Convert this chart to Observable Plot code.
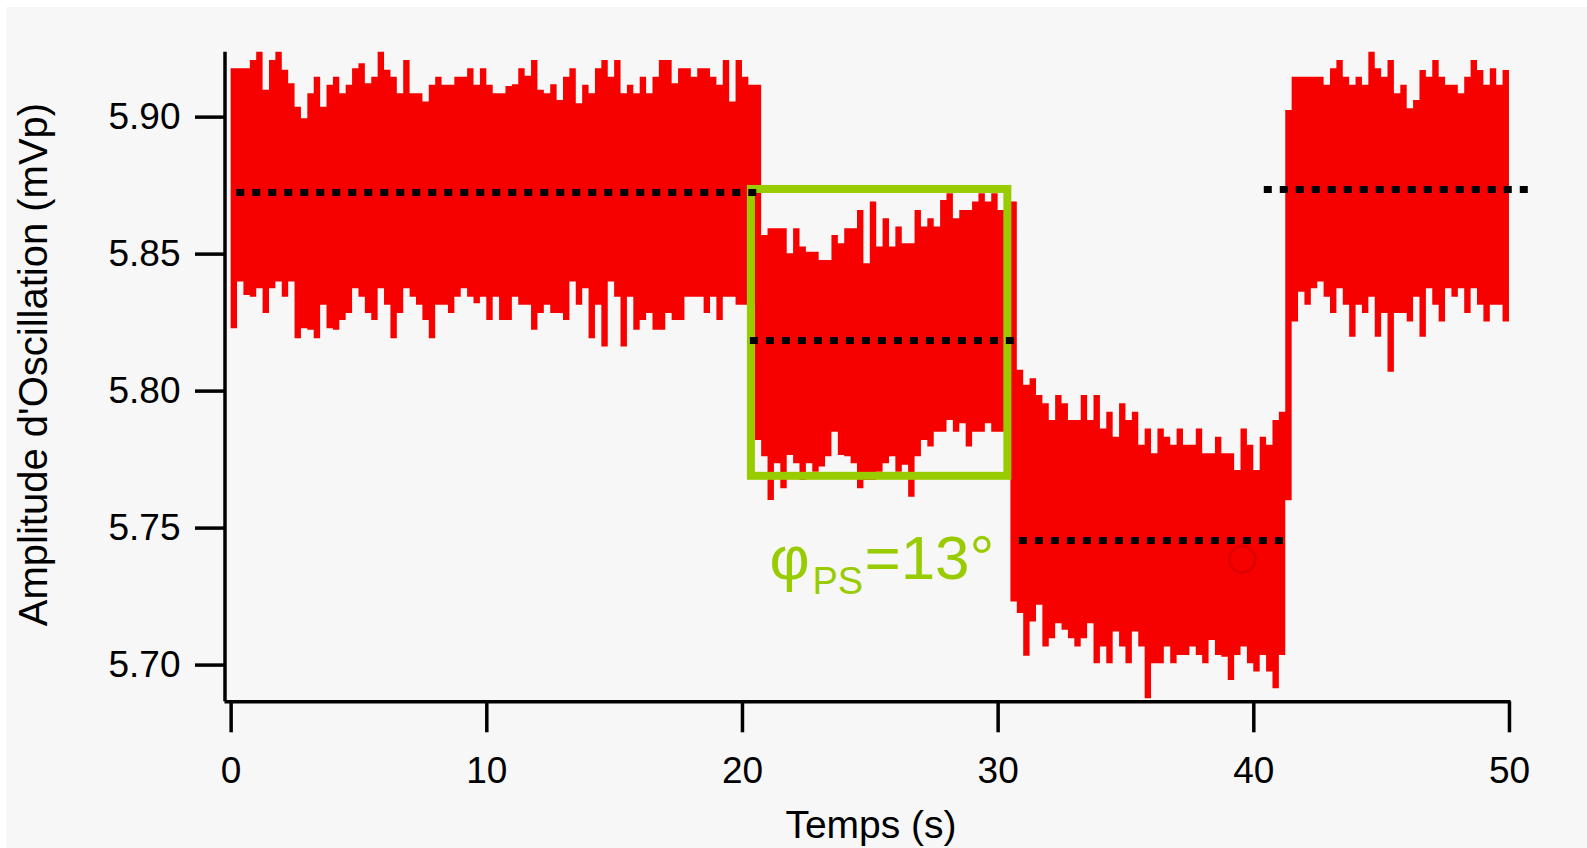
<!DOCTYPE html>
<html>
<head>
<meta charset="utf-8">
<script src="https://cdn.jsdelivr.net/npm/d3@7"></script>
<script src="https://cdn.jsdelivr.net/npm/@observablehq/plot@0.6"></script>
<style>
  html, body { margin: 0; padding: 0; background: #ffffff; }
  #panel { position: absolute; left: 6px; top: 7px; width: 1581px; height: 841px; background: #f7f7f7; }
</style>
</head>
<body>
<div id="panel"></div>
<script>
// ---- Data (upper / lower envelope of the red signal, 0.25 s sampling) ----
const sampleStep = 0.25; // s

const seg1Upper = [5.9177,5.9177,5.9177,5.9207,5.9237,5.9098,5.9207,5.9237,5.9171,5.9122,
5.9036,5.8994,5.9085,5.9146,5.9036,5.9116,5.9146,5.9085,5.9116,5.9177,
5.9195,5.9122,5.9146,5.9237,5.9171,5.9146,5.9085,5.9207,5.9085,5.9085,
5.9055,5.9116,5.9146,5.9116,5.9116,5.9146,5.9146,5.9177,5.9116,5.9177,
5.9116,5.9085,5.9085,5.9112,5.9118,5.9177,5.9149,5.9207,5.9098,5.9085,
5.9118,5.9061,5.9146,5.9177,5.9049,5.9116,5.9085,5.9177,5.9207,5.9146,
5.9207,5.9085,5.9116,5.9085,5.9146,5.9085,5.9146,5.9207,5.9207,5.9122,
5.9177,5.9177,5.9146,5.9177,5.9177,5.9146,5.9116,5.9207,5.9055,5.9207,
5.9146,5.9116,5.9116];
const seg1Lower = [5.8228,5.8398,5.8349,5.8343,5.8374,5.8283,5.8374,5.8398,5.8343,5.8398,
5.8191,5.8228,5.8222,5.8191,5.8313,5.8228,5.8222,5.8258,5.8283,5.8374,
5.8343,5.8283,5.8258,5.8374,5.8313,5.8191,5.8283,5.8374,5.8343,5.8313,
5.8258,5.8191,5.8313,5.8313,5.8283,5.8343,5.8374,5.8343,5.8319,5.8343,
5.8258,5.8343,5.8258,5.8258,5.8343,5.8313,5.8313,5.8222,5.8283,5.8313,
5.8283,5.8283,5.8258,5.8398,5.8313,5.8374,5.8191,5.8313,5.8161,5.8398,
5.8343,5.8161,5.8343,5.8222,5.8258,5.8283,5.8222,5.8222,5.8283,5.8258,
5.8258,5.8343,5.8343,5.8343,5.8283,5.8343,5.8258,5.8343,5.8343,5.8313,
5.8313,5.8313,5.7820];
const seg2Upper = [5.8568,5.8593,5.8593,5.8593,5.8501,5.8593,5.8526,5.8507,5.8507,5.8477,
5.8477,5.8568,5.8538,5.8593,5.8593,5.8659,5.8465,5.8690,5.8526,5.8629,
5.8526,5.8599,5.8538,5.8538,5.8659,5.8599,5.8629,5.8599,5.8696,5.8720,
5.8629,5.8659,5.8659,5.8690,5.8720,5.8690,5.8720,5.8659,5.8690,5.8690];
const seg2Lower = [5.7760,5.7601,5.7735,5.7644,5.7765,5.7735,5.7674,5.7735,5.7704,5.7723,
5.7760,5.7850,5.7765,5.7760,5.7735,5.7644,5.7674,5.7674,5.7704,5.7735,
5.7760,5.7704,5.7729,5.7613,5.7760,5.7820,5.7796,5.7850,5.7850,5.7893,
5.7850,5.7881,5.7796,5.7850,5.7850,5.7881,5.7850,5.7850,5.7850,5.7230];
const seg3Upper = [5.8076,5.8021,5.8045,5.7984,5.7954,5.7893,5.7984,5.7954,5.7893,5.7893,
5.7984,5.7893,5.7984,5.7862,5.7923,5.7832,5.7954,5.7893,5.7923,5.7802,
5.7862,5.7771,5.7862,5.7832,5.7802,5.7862,5.7802,5.7802,5.7862,5.7771,
5.7771,5.7832,5.7771,5.7771,5.7710,5.7862,5.7802,5.7710,5.7832,5.7802,
5.7893,5.7923,5.9024];
const seg3Lower = [5.7188,5.7032,5.7157,5.7218,5.7066,5.7096,5.7151,5.7127,5.7096,5.7066,
5.7096,5.7151,5.7005,5.7066,5.7005,5.7121,5.7066,5.7005,5.7121,5.7066,
5.6877,5.7005,5.7005,5.7066,5.7005,5.7035,5.7035,5.7066,5.7035,5.7005,
5.7090,5.7035,5.7029,5.6944,5.7035,5.7066,5.7005,5.6975,5.7035,5.6975,
5.6914,5.7035,5.7600];
const seg4Upper = [5.9146,5.9146,5.9146,5.9146,5.9146,5.9116,5.9177,5.9207,5.9146,5.9116,
5.9146,5.9116,5.9237,5.9177,5.9146,5.9207,5.9085,5.9116,5.9031,5.9061,
5.9170,5.9146,5.9207,5.9146,5.9116,5.9116,5.9085,5.9146,5.9207,5.9170,
5.9116,5.9177,5.9116,5.9170,5.9055];
const seg4Lower = [5.8252,5.8361,5.8313,5.8374,5.8398,5.8343,5.8283,5.8374,5.8313,5.8197,
5.8313,5.8283,5.8343,5.8197,5.8283,5.8069,5.8283,5.8283,5.8252,5.8343,
5.8197,5.8374,5.8313,5.8252,5.8374,5.8343,5.8374,5.8283,5.8374,5.8313,
5.8252,5.8313,5.8313,5.8252,5.8374];

// mean levels (dotted lines)
const meanLevel = [5.8725, 5.8185, 5.7455, 5.8736];
const meanStart = [0.22, 20.31, 30.83, 40.41];
const meanEnd   = [20.6, 30.72, 41.25, 50.74];

// green selection box
const boxX = [20.35, 30.38];
const boxY = [5.7689, 5.8736];
const boxLabel = {x: 21.06, y: 5.7313};

// faint marker
const markerX = [39.55];
const markerY = [5.7386];

const xTicks = [0, 10, 20, 30, 40, 50];
const yTicks = [5.70, 5.75, 5.80, 5.85, 5.90];

// ---- Build table ----
const upper = [...seg1Upper, ...seg2Upper, ...seg3Upper, ...seg4Upper];
const lower = [...seg1Lower, ...seg2Lower, ...seg3Lower, ...seg4Lower];
const samples = upper.map((hi, i) => ({t: i * sampleStep, hi, lo: lower[i]}));
const means = meanLevel.map((y, i) => ({y, x1: meanStart[i], x2: meanEnd[i]}));
const box = [{x1: boxX[0], x2: boxX[1], y1: boxY[0], y2: boxY[1]}];

const RED = "#f70000";
const GREEN = "#99cc00";
const FONT = "'Liberation Sans', Arial, Helvetica, sans-serif";

const xMin = -0.24, yMin = 5.6866;

const chart = Plot.plot({
  width: 1581,
  height: 841,
  marginLeft: 218.5,
  marginRight: 76.5,
  marginTop: 44.7,
  marginBottom: 146.7,
  style: {background: "transparent", fontFamily: FONT, fontSize: "37px", color: "black", overflow: "visible"},
  x: {domain: [xMin, 50.06]},
  y: {domain: [yMin, 5.9237]},
  marks: [
    Plot.areaY(samples, {x: "t", y1: "lo", y2: "hi", curve: "step-after", fill: RED}),
    Plot.rect(box, {x1: "x1", x2: "x2", y1: "y1", y2: "y2", fill: "none", stroke: GREEN, strokeWidth: 8}),
    Plot.ruleY(means, {y: "y", x1: "x1", x2: "x2", stroke: "black", strokeWidth: 7, strokeDasharray: "8,8"}),
    Plot.dot(markerX.map((x, i) => ({x, y: markerY[i]})), {x: "x", y: "y", r: 13, stroke: "#e00000", strokeWidth: 3}),
    Plot.text(["φ"], {x: boxLabel.x, y: boxLabel.y, text: d => d, textAnchor: "start", lineAnchor: "bottom", fontSize: 62, fill: GREEN}),
    Plot.text(["PS"], {x: boxLabel.x + 1.68, y: boxLabel.y - 0.0055, text: d => d, textAnchor: "start", lineAnchor: "bottom", fontSize: 38, fill: GREEN}),
    Plot.text(["=13°"], {x: boxLabel.x + 3.71, y: boxLabel.y, text: d => d, textAnchor: "start", lineAnchor: "bottom", fontSize: 62, fill: GREEN}),
    Plot.axisX({ticks: xTicks, tickFormat: d => String(d), tickSize: 31, tickPadding: 24, strokeWidth: 3.5, label: null, fontSize: 37}),
    Plot.axisY({ticks: yTicks, tickFormat: d => d.toFixed(2), tickSize: 29.5, tickPadding: 15, strokeWidth: 3.5, label: null, fontSize: 37}),
    Plot.ruleX([xMin], {stroke: "black", strokeWidth: 3.5}),
    Plot.ruleY([yMin], {stroke: "black", strokeWidth: 3.5}),
    Plot.text(["Temps (s)"], {frameAnchor: "bottom", text: d => d, dx: 3, dy: 136, lineAnchor: "bottom", fontSize: 39}),
    Plot.text(["Amplitude d'Oscillation (mVp)"], {frameAnchor: "left", text: d => d, textAnchor: "middle", rotate: -90, dx: -191, dy: -12.5, fontSize: 40})
  ]
});
document.getElementById("panel").appendChild(chart);
</script>
</body>
</html>
